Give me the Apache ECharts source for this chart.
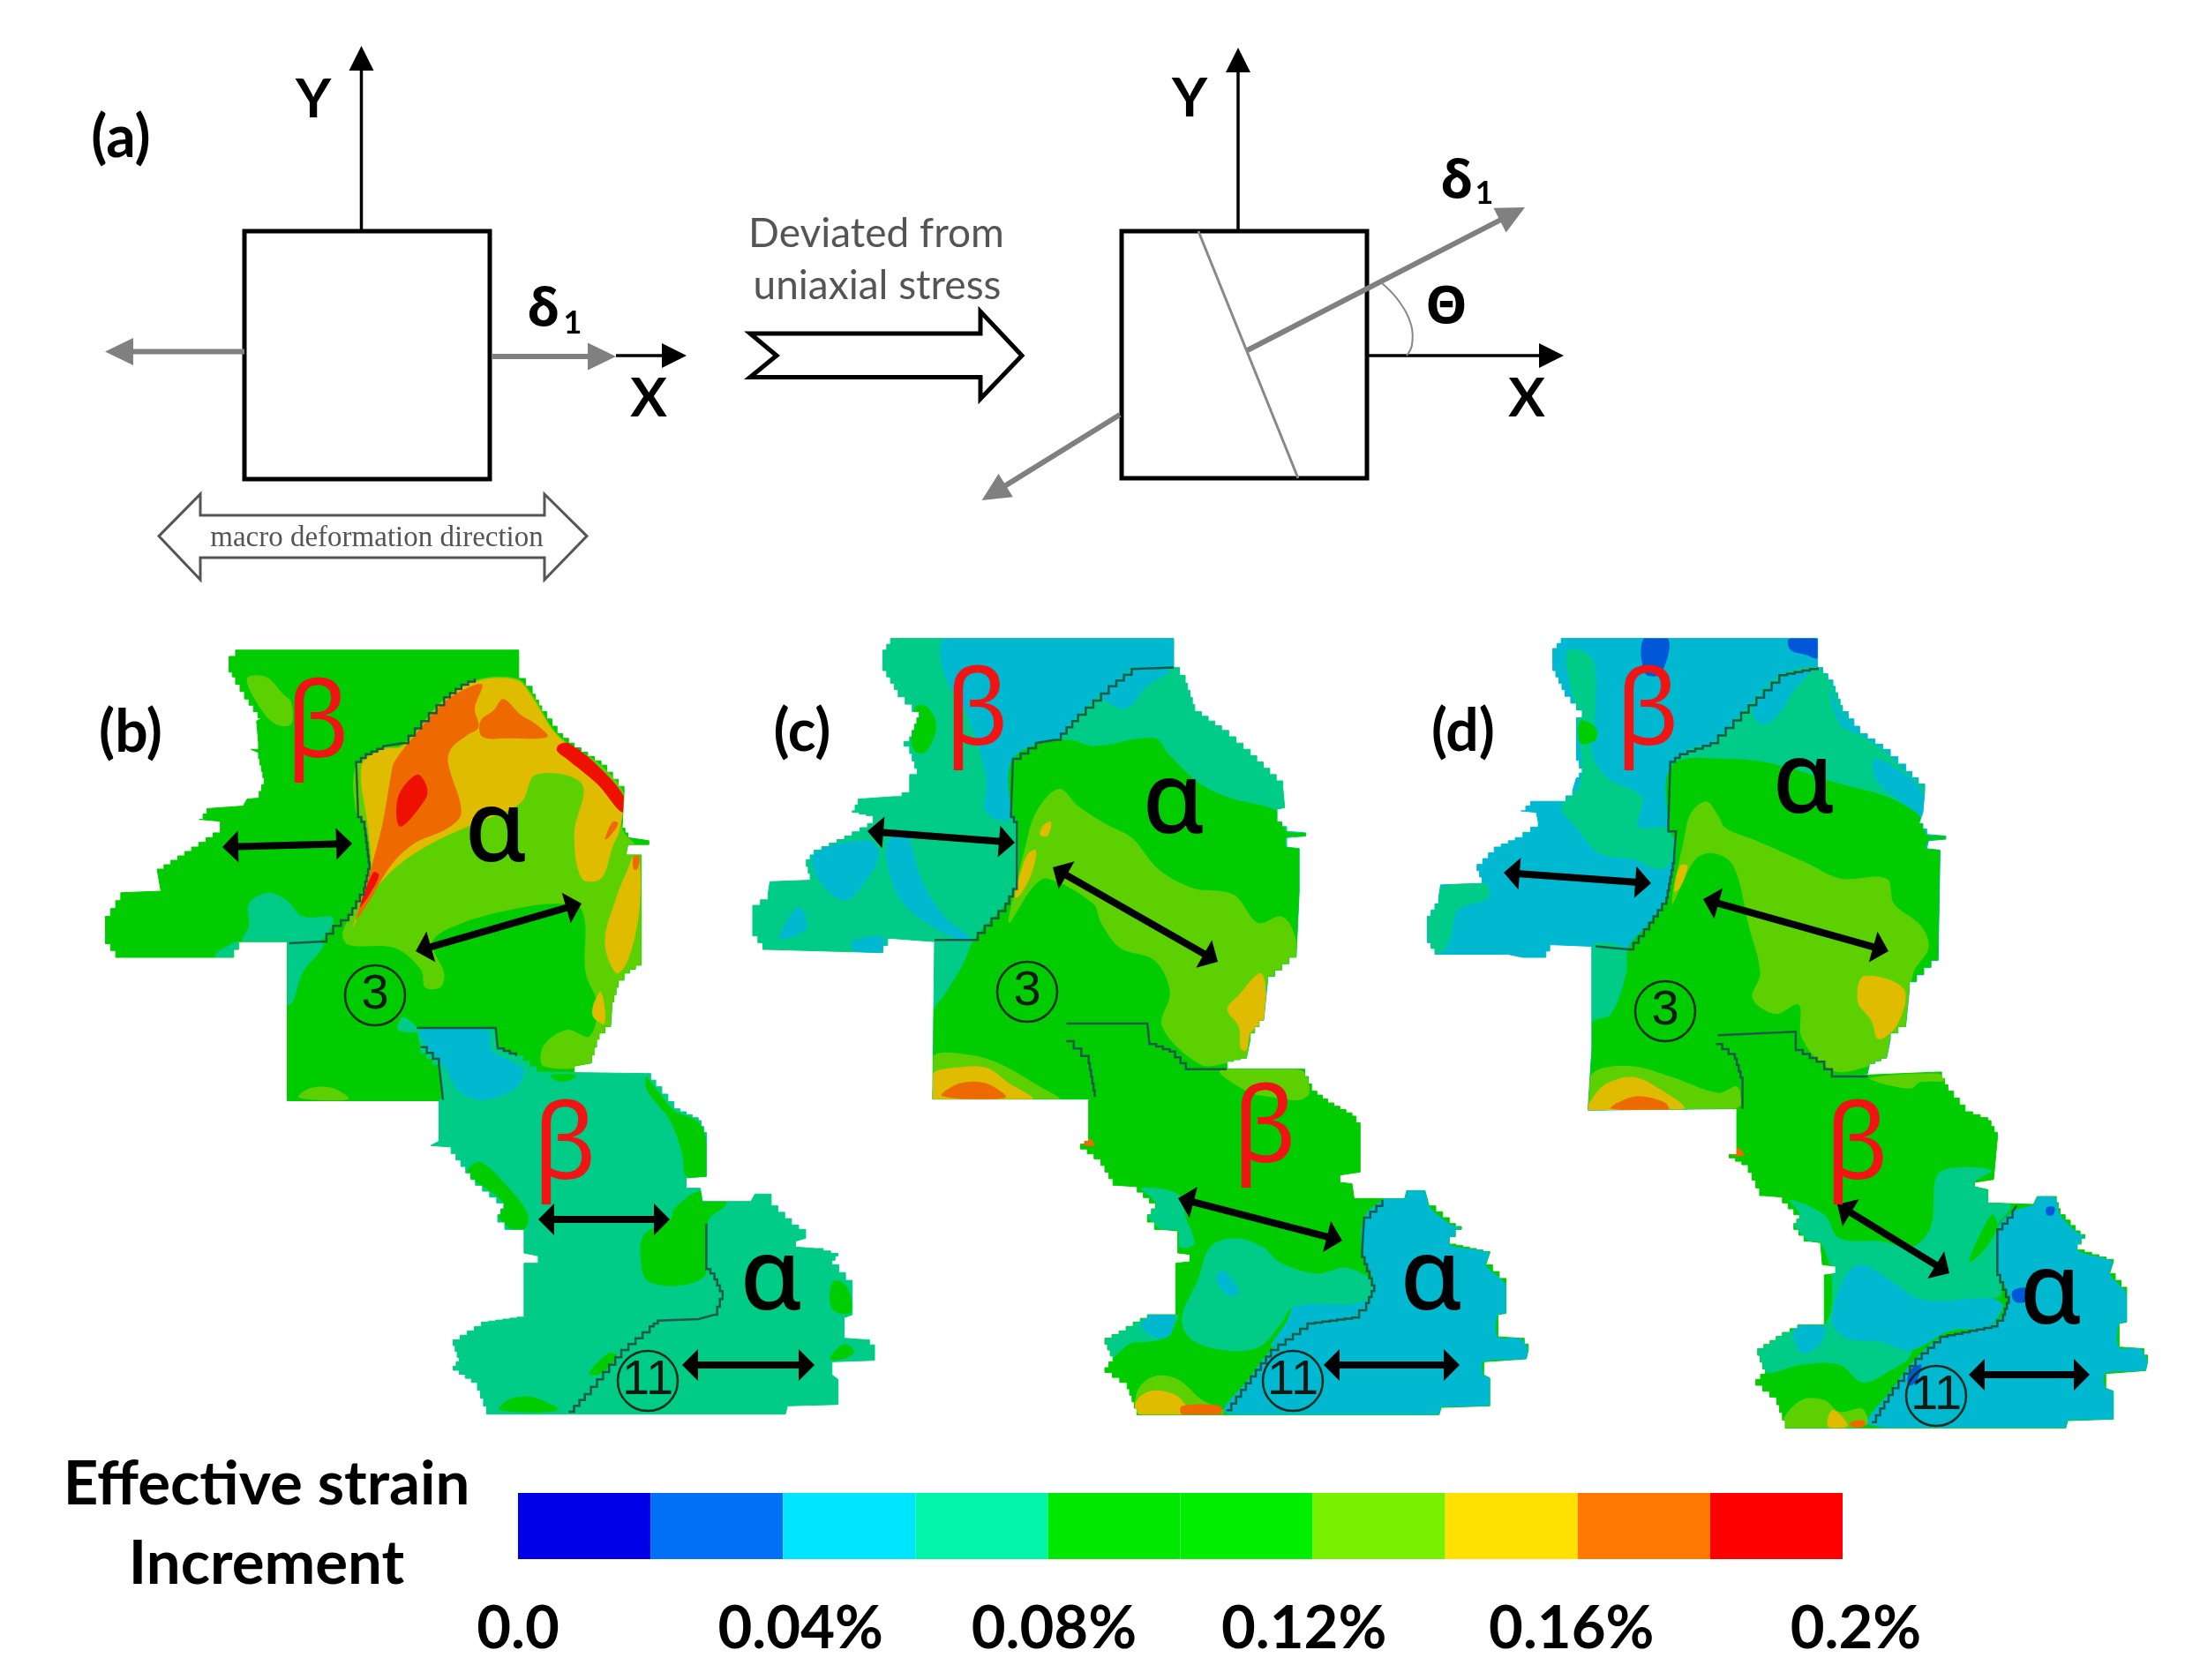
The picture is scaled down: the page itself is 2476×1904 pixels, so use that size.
<!DOCTYPE html>
<html>
<head>
<meta charset="utf-8">
<title>Effective strain increment</title>
<script src="https://cdn.jsdelivr.net/npm/echarts@6/dist/echarts.min.js"></script>
<style>
  html, body { margin: 0; padding: 0; background: #fff; }
  #chart { width: 2476px; height: 1904px; filter: blur(0.7px); }
</style>
</head>
<body>
<div id="chart"></div>
<script>
// colour bar
const legendStops = [0, 0.02, 0.04, 0.06, 0.08, 0.10, 0.12, 0.14, 0.16, 0.18, 0.20];
const legendColors = ['#0000e6', '#0070f5', '#00e5ff', '#00f5a8', '#00e800', '#00ee00', '#78f000', '#ffe000', '#ff7800', '#ff0000'];
const tickValues = [0, 0.04, 0.08, 0.12, 0.16, 0.2];
const tickLabels = ['0.0', '0.04%', '0.08%', '0.12%', '0.16%', '0.2%'];

// strain level of each patch (middle of its colour band)
const BLUE = 0.03, CYAN = 0.05, TEAL = 0.07, GREEN = 0.10, LIME = 0.13, YELLOW = 0.15, ORANGE = 0.17, RED = 0.19;

const panelBUpper = [
  [GREEN, [385,75, 1125,75, 1125,165, 1160,215, 1185,270, 1225,340, 1270,385, 1340,440, 1400,530, 1395,640, 1410,670, 1465,680, 1465,692, 1410,692, 1405,725, 1445,725, 1445,1075, 1415,1100, 1385,1145, 1368,1215, 1365,1270, 1335,1310, 1315,1385, 1270,1395, 1270,1415, 1170,1415, 920,1505, 520,1505, 520,1000, 405,1000, 380,1050, 85,1050, 45,985, 45,920, 85,845, 190,840, 180,770, 270,700, 345,640, 345,618, 290,612, 310,578, 405,570, 415,548, 440,545, 460,480, 445,400, 425,390, 445,370, 440,300, 455,290, 420,230, 385,160, 368,130, 368,95]],
  [LIME, [415,165, 465,160, 510,215, 530,240, 530,310, 490,310, 450,260]],
  [TEAL, [420,880, 470,845, 520,870, 560,920, 640,925, 600,1000, 405,1000, 420,950]],
  [TEAL, [330,1045, 385,1000, 400,1005, 380,1050]],
  [TEAL, [520,1005, 615,1005, 560,1100, 535,1190, 520,1200]],
  [TEAL, [820,1240, 850,1260, 860,1285, 810,1280]],
  [LIME, [550,1495, 580,1465, 640,1465, 680,1500]],
  [LIME, [700,440, 770,385, 820,375, 930,230, 1010,170, 1120,165, 1160,215, 1225,340, 1340,440, 1400,530, 1395,640, 1445,725, 1445,1075, 1385,1145, 1365,1270, 1315,1385, 1190,1395, 1190,1330, 1250,1280, 1310,1300, 1330,1200, 1300,1100, 1290,900, 1220,880, 1100,900, 980,940, 900,1000, 930,1100, 920,1145, 880,1145, 870,1090, 800,1020, 680,1010, 665,970, 720,830, 735,750, 722,620, 700,590]],
  [YELLOW, [715,440, 770,390, 820,380, 930,235, 1010,175, 1120,170, 1160,225, 1225,345, 1330,445, 1395,535, 1390,640, 1370,700, 1340,800, 1290,800, 1270,660, 1290,500, 1170,470, 1130,560, 1000,630, 880,700, 790,780, 710,900, 690,960, 730,850, 740,760, 730,630]],
  [YELLOW, [1425,730, 1440,740, 1440,900, 1410,1060, 1380,1100, 1350,1000, 1380,860, 1410,770]],
  [YELLOW, [1340,1160, 1350,1260, 1320,1240, 1320,1200]],
  [ORANGE, [1000,190, 1030,185, 1010,260, 1020,320, 990,345, 950,385, 940,430, 975,590, 940,640, 850,690, 790,760, 730,880, 700,930, 725,830, 745,740, 770,620, 790,480, 800,430, 870,320, 930,240]],
  [ORANGE, [1025,300, 1060,265, 1085,230, 1130,280, 1170,310, 1200,350, 1100,355, 1030,350]],
  [ORANGE, [1370,620, 1350,675, 1360,670, 1385,625]],
  [ORANGE, [1425,730, 1440,730, 1435,770, 1425,770]],
  [RED, [1230,375, 1255,370, 1330,440, 1400,540, 1395,590, 1330,500, 1250,420, 1225,395]],
  [RED, [860,470, 885,510, 880,550, 815,635, 810,540]],
  [RED, [745,780, 760,790, 730,860, 710,890]]
];
const panelBLower = [
  [TEAL, [375,45, 570,45, 575,115, 620,140, 670,195, 940,200, 965,245, 1010,320, 1070,360, 1090,420, 1090,550, 1040,555, 1040,590, 1075,590, 1080,635, 1200,635, 1210,610, 1250,610, 1250,650, 1300,715, 1335,745, 1335,760, 1310,770, 1310,790, 1360,795, 1415,820, 1400,850, 1450,930, 1450,1020, 1430,1030, 1430,1100, 1480,1105, 1505,1140, 1505,1175, 1400,1180, 1400,1225, 1415,1240, 1415,1325, 1290,1330, 1285,1358, 555,1358, 525,1250, 465,1195, 480,1165, 465,1105, 500,1075, 535,1045, 640,1025, 640,845, 675,845, 675,820, 640,810, 640,730, 610,730, 575,680, 590,640, 520,560, 460,450, 410,445, 430,430, 430,290, 440,285, 430,170, 385,110]],
  [CYAN, [385,55, 550,55, 560,120, 620,165, 640,190, 620,250, 540,290, 480,260, 440,170, 400,110]],
  [GREEN, [940,210, 965,250, 1010,325, 1070,365, 1090,430, 1090,550, 1040,550, 1030,470, 1000,360, 945,260]],
  [GREEN, [500,540, 530,500, 590,570, 650,680, 640,730, 610,730, 575,680, 590,640]],
  [GREEN, [1010,660, 1075,600, 1140,640, 1095,700, 1090,850, 1085,890, 1030,920, 950,910, 930,860, 935,750, 1000,700]],
  [GREEN, [580,1345, 600,1310, 660,1300, 725,1345]],
  [GREEN, [1400,910, 1425,910, 1445,950, 1445,1015, 1400,1000]],
  [GREEN, [1395,1170, 1430,1120, 1455,1145, 1430,1170]],
  [GREEN, [705,205, 770,205, 750,225, 720,225]],
  [GREEN, [800,1220, 850,1150, 870,1160, 830,1220]]
];
const boundaryBUpper = [[525,1005, 605,1000, 640,950, 680,915, 720,830, 735,750, 722,620, 705,590, 700,430, 725,405, 770,380, 820,370, 870,300, 930,225, 975,185, 1010,165]];
const boundaryBLower = [
  [375,45, 570,45, 575,115, 620,140],
  [385,110, 430,170, 440,290],
  [750,1350, 790,1290, 850,1190, 880,1140, 950,1060, 970,1040, 1070,1035, 1110,1020, 1130,940, 1110,880, 1090,850, 1090,710]
];

const panelCUpper = [
  [TEAL, [390,38, 1130,38, 1130,130, 1160,180, 1185,270, 1255,330, 1330,410, 1415,510, 1420,575, 1400,580, 1400,620, 1425,650, 1475,655, 1475,665, 1425,670, 1425,700, 1458,705, 1458,840, 1450,1050, 1375,1130, 1365,1250, 1330,1310, 1320,1370, 1270,1385, 1270,1410, 1160,1410, 920,1500, 500,1500, 505,1000, 395,990, 370,1035, 70,1025, 30,960, 30,885, 70,850, 75,810, 185,805, 170,740, 190,710, 270,665, 330,625, 345,600, 290,585, 305,548, 400,540, 440,515, 440,470, 460,450, 440,380, 425,365, 440,350, 465,270, 410,200, 370,120, 370,75]],
  [CYAN, [535,40, 1130,40, 1130,130, 1020,135, 960,190, 880,280, 820,360, 770,370, 705,430, 700,610, 640,590, 640,480, 590,280, 530,150]],
  [CYAN, [1020,140, 1120,140, 1060,190, 1020,250, 990,260, 940,215]],
  [CYAN, [190,720, 330,680, 360,720, 330,800, 270,870, 200,800]],
  [CYAN, [380,690, 430,660, 470,800, 530,920, 600,990, 560,990, 450,910, 400,830]],
  [CYAN, [100,990, 150,890, 170,960]],
  [CYAN, [290,1000, 370,985, 370,1030, 300,1035]],
  [GREEN, [460,250, 490,260, 510,320, 480,400, 450,390, 445,300]],
  [GREEN, [705,430, 770,375, 860,360, 920,380, 1080,355, 1120,410, 1200,500, 1280,545, 1400,585, 1425,650, 1475,655, 1475,665, 1425,670, 1425,700, 1458,705, 1450,1050, 1375,1130, 1365,1250, 1330,1310, 1320,1370, 1270,1385, 1270,1410, 1160,1410, 920,1500, 500,1500, 500,1230, 530,1170, 580,1070, 610,990, 690,880, 720,810, 720,620, 705,590]],
  [LIME, [830,515, 880,570, 950,625, 1020,670, 1090,770, 1180,830, 1285,850, 1350,940, 1410,920, 1440,960, 1450,1050, 1375,1130, 1365,1250, 1330,1310, 1320,1370, 1270,1385, 1200,1390, 1100,1270, 1120,1160, 1080,1060, 990,1020, 940,940, 920,880, 800,800, 760,830, 700,940, 720,810, 740,710, 770,590]],
  [YELLOW, [790,630, 810,620, 800,665, 780,660]],
  [YELLOW, [750,720, 770,710, 760,780, 730,850, 715,860, 735,760]],
  [YELLOW, [1355,1100, 1370,1140, 1365,1250, 1330,1290, 1320,1345, 1305,1340, 1300,1270, 1270,1215, 1300,1170]],
  [LIME, [500,1365, 600,1360, 680,1390, 780,1460, 830,1500, 500,1500]],
  [YELLOW, [500,1420, 560,1400, 640,1400, 700,1450, 760,1500, 500,1500]],
  [ORANGE, [525,1490, 570,1450, 640,1450, 690,1495]]
];
const panelCLower = [
  [GREEN, [345,30, 545,30, 550,100, 600,125, 640,185, 925,185, 950,260, 990,300, 1050,345, 1070,390, 1070,535, 1020,545, 1020,570, 1050,575, 1055,625, 1180,625, 1185,598, 1230,598, 1240,650, 1290,710, 1320,730, 1290,780, 1390,810, 1380,850, 1430,920, 1430,1015, 1410,1020, 1410,1095, 1465,1100, 1485,1140, 1480,1170, 1375,1180, 1375,1225, 1390,1235, 1390,1330, 1270,1335, 1265,1360, 525,1360, 495,1250, 440,1200, 460,1160, 440,1100, 475,1075, 510,1045, 545,1020, 615,1020, 615,845, 650,840, 650,815, 620,810, 620,735, 580,730, 545,680, 565,640, 520,585, 470,580, 430,490, 380,440, 400,420, 400,290, 415,280, 400,165, 345,90]],
  [LIME, [725,190, 925,190, 945,265, 920,290, 850,280, 790,260]],
  [ORANGE, [380,440, 400,420, 415,445]],
  [TEAL, [530,590, 620,610, 640,690, 660,780, 625,790, 620,735, 580,730, 545,680, 565,640]],
  [TEAL, [700,790, 760,760, 830,790, 870,840, 960,880, 1030,860, 1075,880, 1105,920, 1080,990, 990,1000, 900,1000, 880,1040, 820,1130, 730,1140, 650,1100, 630,1030, 670,900]],
  [CYAN, [730,870, 760,910, 770,950, 740,950, 715,900]],
  [TEAL, [440,1100, 510,1050, 540,1030, 620,1020, 610,1060, 600,1090, 560,1110, 500,1120, 440,1190]],
  [CYAN, [550,1020, 610,1025, 600,1090, 570,1100, 530,1060]],
  [CYAN, [850,1130, 890,1040, 910,990, 1050,985, 1085,975, 1050,1030, 940,1050]],
  [CYAN, [740,1355, 800,1230, 850,1140, 940,1050, 1050,1030, 1085,980, 1105,920, 1075,800, 1080,690, 1125,630, 1185,598, 1230,598, 1240,650, 1290,710, 1320,730, 1290,780, 1390,810, 1380,850, 1430,920, 1430,1015, 1410,1020, 1410,1095, 1465,1100, 1485,1140, 1480,1170, 1375,1180, 1375,1225, 1390,1235, 1390,1330, 1270,1335, 1265,1360]],
  [LIME, [520,1280, 560,1230, 620,1240, 680,1310, 730,1340, 730,1358, 525,1358]],
  [YELLOW, [515,1320, 550,1280, 610,1290, 640,1330, 640,1358, 525,1358]],
  [ORANGE, [630,1330, 725,1330, 725,1358, 630,1358]]
];
const boundaryCUpper = [[505,995, 600,995, 690,880, 720,810, 720,620, 705,590, 710,420, 770,370, 820,360, 880,280, 960,190, 1020,135, 1130,130]];
const boundaryCLower = [
  [345,30, 545,30, 550,100, 600,125, 640,185, 740,185],
  [345,90, 400,165, 415,280],
  [740,1345, 800,1230, 850,1140, 940,1050, 1050,1030, 1085,980, 1105,920, 1075,800, 1080,690, 1125,630]
];

const panelDUpper = [
  [CYAN, [390,38, 1060,38, 1060,130, 1100,190, 1125,270, 1170,340, 1230,390, 1290,460, 1340,520, 1335,590, 1325,625, 1345,660, 1395,665, 1395,675, 1350,680, 1345,705, 1380,710, 1375,1060, 1300,1150, 1290,1270, 1250,1310, 1240,1370, 1195,1395, 1190,1420, 1090,1430, 860,1530, 460,1535, 470,1340, 470,1015, 370,1010, 350,1050, 290,1050, 250,1040, 70,1040, 40,985, 40,920, 70,860, 75,820, 190,815, 170,755, 215,700, 270,670, 330,620, 325,590, 285,585, 310,555, 385,555, 420,520, 430,480, 445,450, 430,400, 430,290, 445,265, 400,200, 368,120, 368,70]],
  [TEAL, [405,80, 470,100, 480,250, 470,400, 510,480, 600,540, 590,630, 610,640, 670,640, 685,700, 670,760, 640,770, 580,740, 490,720, 430,640, 390,570, 440,500, 430,290]],
  [TEAL, [40,920, 75,830, 190,815, 200,860, 120,900, 100,990, 70,1040, 40,985]],
  [GREEN, [440,300, 480,320, 480,360, 440,370]],
  [BLUE, [605,40, 670,40, 650,150, 610,150]],
  [BLUE, [985,40, 1060,40, 1060,100, 1030,90, 990,75]],
  [TEAL, [680,430, 730,385, 780,370, 880,250, 960,155, 1060,130, 1100,190, 1125,270, 1170,340, 1230,390, 1290,460, 1340,520, 1335,590, 1240,540, 1120,500, 960,450, 850,420, 680,470]],
  [CYAN, [960,165, 1040,140, 1000,200, 950,290, 910,310, 890,250]],
  [CYAN, [1090,200, 1130,290, 1170,340, 1120,310]],
  [CYAN, [1210,420, 1290,470, 1335,530, 1330,590, 1260,540, 1210,480]],
  [TEAL, [470,1015, 565,1025, 560,1100, 520,1230, 470,1260]],
  [GREEN, [680,440, 830,420, 960,440, 1120,500, 1240,540, 1325,600, 1345,660, 1395,665, 1395,675, 1350,680, 1345,705, 1380,710, 1375,1060, 1300,1150, 1290,1270, 1250,1310, 1240,1370, 1195,1395, 1190,1420, 1090,1430, 860,1530, 460,1535, 470,1260, 520,1230, 560,1100, 565,1020, 620,940, 665,860, 690,700, 670,630]],
  [LIME, [770,555, 800,600, 820,640, 900,680, 1030,750, 1120,800, 1240,800, 1260,880, 1330,950, 1350,1020, 1310,1100, 1290,1270, 1250,1310, 1240,1370, 1195,1395, 1100,1410, 1020,1310, 1010,1200, 950,1230, 890,1180, 910,1100, 880,950, 840,760, 790,720, 740,740, 680,880, 710,680, 730,590]],
  [YELLOW, [700,760, 720,760, 700,830, 685,840]],
  [YELLOW, [1180,1110, 1285,1150, 1270,1260, 1220,1310, 1200,1250, 1165,1190]],
  [LIME, [470,1420, 570,1395, 680,1430, 800,1480, 850,1460, 855,1530, 460,1535]],
  [YELLOW, [470,1500, 510,1450, 580,1430, 650,1470, 710,1530, 460,1535]],
  [ORANGE, [520,1530, 540,1510, 590,1490, 660,1510, 670,1535]]
];
const panelDLower = [
  [GREEN, [335,70, 545,58, 545,120, 600,160, 640,210, 920,195, 945,260, 990,330, 1050,360, 1075,420, 1065,560, 1015,570, 1015,585, 1050,595, 1050,640, 1170,645, 1180,618, 1225,618, 1240,680, 1280,735, 1305,760, 1285,800, 1380,840, 1370,880, 1415,950, 1415,1045, 1395,1050, 1395,1130, 1450,1135, 1470,1180, 1465,1210, 1360,1220, 1360,1270, 1380,1280, 1380,1375, 1260,1380, 1255,1405, 525,1405, 495,1300, 440,1240, 465,1205, 445,1135, 510,1080, 550,1055, 620,1055, 620,885, 650,880, 650,855, 615,850, 610,775, 580,770, 540,710, 555,680, 510,620, 460,615, 420,510, 370,475, 390,450, 390,320, 405,305, 390,145, 335,100]],
  [LIME, [740,215, 920,200, 935,225, 870,230, 850,250, 790,240]],
  [ORANGE, [370,475, 390,450, 410,478]],
  [TEAL, [530,630, 620,680, 660,760, 770,770, 850,790, 900,720, 915,550, 960,520, 1060,530, 1015,570, 1050,600, 1110,650, 1075,720, 1085,950, 1060,965, 900,980, 830,1000, 850,1150, 780,1220, 720,1250, 660,1190, 560,1190, 465,1215, 445,1135, 510,1080, 620,1055, 640,900, 610,775, 580,770, 540,710, 555,680]],
  [GREEN, [1000,840, 1060,680, 1075,720, 1040,800]],
  [CYAN, [680,880, 720,850, 790,900, 880,970, 1060,965, 1090,990, 1050,1060, 950,1075, 850,1140, 760,1110, 680,1100, 640,1040]],
  [CYAN, [540,1065, 620,1060, 610,1120, 560,1150]],
  [CYAN, [740,1395, 800,1270, 860,1170, 925,1100, 1050,1060, 1090,1020, 1105,960, 1075,860, 1075,730, 1115,670, 1170,645, 1180,618, 1225,618, 1240,680, 1280,735, 1305,760, 1285,800, 1380,840, 1370,880, 1415,950, 1415,1045, 1395,1050, 1395,1130, 1450,1135, 1470,1180, 1465,1210, 1360,1220, 1360,1270, 1380,1280, 1380,1375, 1260,1380, 1255,1405]],
  [BLUE, [1115,940, 1150,930, 1150,975, 1120,975]],
  [BLUE, [1205,655, 1225,655, 1222,680, 1205,680]],
  [BLUE, [845,1210, 875,1190, 860,1250, 840,1260]],
  [LIME, [510,1380, 560,1310, 620,1310, 660,1350, 720,1340, 730,1395, 525,1405]],
  [YELLOW, [630,1400, 640,1345, 670,1370, 680,1400]],
  [ORANGE, [690,1385, 725,1380, 725,1400, 690,1400]]
];
const boundaryDUpper = [[480,1015, 565,1025, 620,940, 665,860, 685,730, 690,650, 670,630, 675,430, 700,405, 780,370, 880,250, 960,155, 1060,130]];
const boundaryDLower = [
  [340,70, 545,58, 545,120, 600,160, 640,210, 735,210],
  [335,100, 385,150, 405,235, 405,320],
  [745,1385, 800,1270, 860,1170, 925,1095, 1060,1060, 1090,1020, 1105,960, 1075,860, 1075,730, 1115,670, 1125,650]
];

// loading direction arrows in the maps: x1, y1, x2, y2
const strainArrows = [
  [252,960, 399,956], [471,1078, 659,1024], [610,1382, 759,1382], [773,1547, 923,1547],
  [983,942, 1150,955], [1193,983, 1380,1090], [1335,1358, 1521,1406], [1500,1547, 1654,1547],
  [1704,989, 1871,1001], [1930,1019, 2140,1078], [2082,1365, 2209,1443], [2231,1558, 2368,1558]
];
// sketch (a): x1, y1, x2, y2 from tail to tip
const axisArrows = [[409.5,262, 409.5,52], [698,403, 778,403], [1403,262, 1403,54], [1551,403, 1772,403]];
const stressArrows = [[277,398.6, 119,398.6], [557,404, 698,404], [1413.5,397, 1728,235], [1269,470, 1112.5,567]];
const sketchBoxes = [[277,262, 555,543], [1271,262, 1549,542]];
const chevron = [850,378, 1111,378, 1111,353, 1158,403, 1111,452, 1111,427.5, 850,427.5, 880,403];
const macroArrow = [180,607.6, 227,560, 227,584, 617,584, 617,560, 665,607.6, 617,657, 617,632, 227,632, 227,657];
const grainLine = [1358,262, 1471,542];
const thetaArc = [1565,320, 1585,341, 1599,368, 1600,391, 1594,403];

const sketchTexts = [
  ['(a)', 137, 157, 'label'], ['Y', 355, 113, 'axis'], ['X', 735, 452, 'axis'],
  ['δ', 616, 352, 'delta'], ['1', 649, 366, 'sub'],
  ['macro deformation direction', 427, 610, 'serif'],
  ['Deviated from', 993, 265, 'note'], ['uniaxial stress', 994, 324, 'note'],
  ['Y', 1348, 112, 'axis'], ['X', 1730, 452, 'axis'],
  ['δ', 1651, 207, 'delta'], ['1', 1682, 219, 'sub'], ['Θ', 1639, 349, 'delta'],
  ['(b)', 148, 831, 'label'], ['(c)', 909, 830, 'label'], ['(d)', 1658, 830, 'label'],
  ['Effective strain', 302, 1683, 'title'], ['Increment', 302, 1773, 'title']
];
const phaseTexts = [
  ['β', 360, 824, 'beta'], ['α', 562, 944, 'alpha'], ['β', 640, 1302, 'beta'], ['α', 874, 1452, 'alpha'],
  ['β', 1107, 810, 'beta'], ['α', 1330, 912, 'alpha'], ['β', 1433, 1283, 'beta'], ['α', 1622, 1452, 'alpha'],
  ['β', 1867, 810, 'beta'], ['α', 2044, 889, 'alpha'], ['β', 2104, 1302, 'beta'], ['α', 2324, 1468, 'alpha']
];
// grain numbers, drawn inside a ring
const grainMarks = [
  ['3', 425, 1128], ['11', 734, 1565], ['3', 1164, 1124], ['11', 1465, 1565], ['3', 1887, 1146], ['11', 2194, 1582]
];

const fonts = {
  label: 'bold 66px Lato', axis: 'bold 62px Lato', delta: 'bold 60px "Noto Sans"', sub: 'bold 36px Lato',
  serif: '400 33px "Liberation Serif"', note: '400 46px Lato', title: 'bold 69px Lato',
  beta: '400 118px "Noto Sans"', alpha: '500 112px "Noto Sans"', mark: '400 56px "Liberation Sans"'
};
const textColors = { beta: '#f01414', serif: '#555', note: '#555' };

const strainPieces = [
  { min: 0.02, max: 0.04, color: '#0058d8' },
  { min: 0.04, max: 0.06, color: '#00b8d0' },
  { min: 0.06, max: 0.08, color: '#00cc88' },
  { min: 0.08, max: 0.12, color: '#00cc00' },
  { min: 0.12, max: 0.14, color: '#5cd000' },
  { min: 0.14, max: 0.16, color: '#e0bc00' },
  { min: 0.16, max: 0.18, color: '#ee6a00' },
  { min: 0.18, max: 0.20, color: '#ee1000' }
];

// the crops each list was read from: left, top, horizontal and vertical zoom
const crops = {
  bUp: [100, 710, 2.306, 2.8], bLow: [300, 1150, 2.178, 3],
  cUp: [840, 710, 2.306, 2.8], cLow: [1050, 1150, 2.178, 3],
  dUp: [1600, 710, 2.306, 2.8], dLow: [1800, 1150, 2.32, 3]
};
function fromCrop(c, flat) {
  const pts = [];
  for (let i = 0; i < flat.length; i += 2) {
    pts.push([c[0] + flat[i] / c[2], c[1] + flat[i + 1] / c[3]]);
  }
  return pts;
}
function pairs(flat) {
  return fromCrop([0, 0, 1, 1], flat);
}

// the maps are pixelated: diagonal edges of outlines run as small steps
function stepped(pts, closed, size) {
  const out = [pts[0]];
  const end = closed ? pts.length : pts.length - 1;
  for (let i = 0; i < end; i++) {
    const a = pts[i], b = pts[(i + 1) % pts.length];
    const dx = b[0] - a[0], dy = b[1] - a[1];
    if (Math.min(Math.abs(dx), Math.abs(dy)) > 5) {
      const n = Math.ceil(Math.max(Math.abs(dx), Math.abs(dy)) / size);
      for (let k = 1; k <= n; k++) {
        out.push([a[0] + dx * k / n, a[1] + dy * (k - 1) / n]);
        out.push([a[0] + dx * k / n, a[1] + dy * k / n]);
      }
    } else {
      out.push(b);
    }
  }
  return out;
}

const patches = [];
[[panelBUpper, crops.bUp], [panelCUpper, crops.cUp], [panelDUpper, crops.dUp],
 [panelBLower, crops.bLow], [panelCLower, crops.cLow], [panelDLower, crops.dLow]].forEach(([list, c]) => {
  const outline = stepped(fromCrop(c, list[0][1]), true, 9);
  list.forEach((p, i) => patches.push({ value: p[0], pts: i === 0 ? outline : fromCrop(c, p[1]), outline: outline, base: i === 0 }));
});
const boundaries = [];
[[boundaryBUpper, crops.bUp], [boundaryBLower, crops.bLow], [boundaryCUpper, crops.cUp],
 [boundaryCLower, crops.cLow], [boundaryDUpper, crops.dUp], [boundaryDLower, crops.dLow]].forEach(([list, c]) => {
  list.forEach(l => boundaries.push(stepped(fromCrop(c, l), false, 9)));
});

// arrow outline from a to b in screen pixels
function arrowShape(a, b, shaft, headLen, headWid, both) {
  const len = Math.hypot(b[0] - a[0], b[1] - a[1]);
  const ux = (b[0] - a[0]) / len, uy = (b[1] - a[1]) / len;
  const at = (along, side) => [a[0] + ux * along - uy * side, a[1] + uy * along + ux * side];
  const s = shaft / 2, h = headWid / 2;
  const tail = both
    ? [at(headLen, -s), at(headLen, -h), at(0, 0), at(headLen, h), at(headLen, s)]
    : [at(0, -s), at(0, s)];
  return tail.concat([at(len - headLen, s), at(len - headLen, h), at(len, 0), at(len - headLen, -h), at(len - headLen, -s)]);
}

function coords(api, pts) {
  return pts.map(p => api.coord(p));
}

const chart = echarts.init(document.getElementById('chart'));
const hiddenAxis = { type: 'value', show: false, min: 0 };
const allTexts = sketchTexts.concat(phaseTexts);

chart.setOption({
  animation: false,
  backgroundColor: '#ffffff',
  grid: [
    { left: 0, top: 0, width: 2476, height: 1904 },
    { left: 587, top: 1692, width: 1501, height: 75 }
  ],
  xAxis: [
    { ...hiddenAxis, gridIndex: 0, max: 2476 },
    {
      type: 'value', gridIndex: 1, min: 0, max: 0.2, interval: 0.04,
      axisLine: { show: false }, axisTick: { show: false }, splitLine: { show: false },
      axisLabel: {
        margin: 46, fontFamily: 'Lato', fontWeight: 'bold', fontSize: 67, color: '#000',
        showMinLabel: true, showMaxLabel: true, hideOverlap: false,
        formatter: (v) => {
          const i = tickValues.findIndex(t => Math.abs(t - v) < 1e-6);
          return '{t' + i + '|' + tickLabels[i] + '}';
        },
        rich: {
          t0: {}, t1: { padding: [0, 0, 0, 40] }, t2: { padding: [0, 0, 0, 14] },
          t3: { padding: [0, 20, 0, 0] }, t4: { padding: [0, 14, 0, 0] }, t5: { padding: [0, 0, 0, 30] }
        }
      }
    }
  ],
  yAxis: [
    { ...hiddenAxis, gridIndex: 0, max: 1904, inverse: true },
    { type: 'value', gridIndex: 1, min: 0, max: 1, show: false }
  ],
  visualMap: [{
    show: false, type: 'piecewise', seriesIndex: 0, dimension: 0, pieces: strainPieces
  }],
  series: [
    {
      name: 'strain map', type: 'custom', coordinateSystem: 'cartesian2d', xAxisIndex: 0, yAxisIndex: 0, clip: false,
      data: patches.map((p, i) => [p.value, i]),
      renderItem: (params, api) => {
        const patch = patches[api.value(1)];
        const color = api.visual('color');
        const el = {
          type: 'polygon',
          shape: { points: coords(api, patch.pts), smooth: patch.base ? 0 : 0.35 },
          style: { fill: color, stroke: patch.base ? color : null, lineWidth: 1 }
        };
        if (!patch.base) {
          el.clipPath = { type: 'polygon', shape: { points: coords(api, patch.outline) } };
        }
        return el;
      }
    },
    {
      name: 'grain boundaries', type: 'custom', coordinateSystem: 'cartesian2d', xAxisIndex: 0, yAxisIndex: 0, clip: false,
      data: boundaries.map((b, i) => [i, 0]),
      renderItem: (params, api) => ({
        type: 'polyline',
        shape: { points: coords(api, boundaries[api.value(0)]) },
        style: { fill: null, stroke: '#1d5a48', lineWidth: 2.5 }
      })
    },
    {
      name: 'load arrows', type: 'custom', coordinateSystem: 'cartesian2d', xAxisIndex: 0, yAxisIndex: 0, clip: false,
      data: strainArrows,
      renderItem: (params, api) => ({
        type: 'polygon',
        shape: { points: arrowShape(api.coord([api.value(0), api.value(1)]), api.coord([api.value(2), api.value(3)]), 8, 18, 36, true) },
        style: { fill: '#000' }
      })
    },
    {
      name: 'sketch boxes', type: 'custom', coordinateSystem: 'cartesian2d', xAxisIndex: 0, yAxisIndex: 0, clip: false,
      data: sketchBoxes,
      renderItem: (params, api) => {
        const a = api.coord([api.value(0), api.value(1)]), b = api.coord([api.value(2), api.value(3)]);
        return {
          type: 'rect',
          shape: { x: a[0], y: a[1], width: b[0] - a[0], height: b[1] - a[1] },
          style: { fill: 'transparent', stroke: '#000', lineWidth: 5 }
        };
      }
    },
    {
      name: 'axis arrows', type: 'custom', coordinateSystem: 'cartesian2d', xAxisIndex: 0, yAxisIndex: 0, clip: false,
      data: axisArrows,
      renderItem: (params, api) => ({
        type: 'polygon',
        shape: { points: arrowShape(api.coord([api.value(0), api.value(1)]), api.coord([api.value(2), api.value(3)]), 3.5, 28, 28, false) },
        style: { fill: '#000' }
      })
    },
    {
      name: 'stress arrows', type: 'custom', coordinateSystem: 'cartesian2d', xAxisIndex: 0, yAxisIndex: 0, clip: false,
      data: stressArrows,
      renderItem: (params, api) => ({
        type: 'polygon',
        shape: { points: arrowShape(api.coord([api.value(0), api.value(1)]), api.coord([api.value(2), api.value(3)]), 6, 32, 31, false) },
        style: { fill: '#808080' }
      })
    },
    {
      name: 'sketch outlines', type: 'custom', coordinateSystem: 'cartesian2d', xAxisIndex: 0, yAxisIndex: 0, clip: false,
      data: [[0], [1], [2], [3]],
      renderItem: (params, api) => {
        const i = api.value(0);
        const shapes = [
          { pts: chevron, closed: true, stroke: '#000', width: 5 },
          { pts: macroArrow, closed: true, stroke: '#555', width: 3 },
          { pts: grainLine, closed: false, stroke: '#888', width: 3 },
          { pts: thetaArc, closed: false, stroke: '#888', width: 2 }
        ];
        const s = shapes[i];
        return {
          type: s.closed ? 'polygon' : 'polyline',
          shape: { points: coords(api, pairs(s.pts)), smooth: i === 3 ? 0.4 : 0 },
          style: { fill: s.closed ? '#fff' : null, stroke: s.stroke, lineWidth: s.width }
        };
      }
    },
    {
      name: 'grain marks', type: 'custom', coordinateSystem: 'cartesian2d', xAxisIndex: 0, yAxisIndex: 0, clip: false,
      data: grainMarks.map((m, i) => [m[1], m[2], i]),
      renderItem: (params, api) => {
        const p = api.coord([api.value(0), api.value(1)]);
        return {
          type: 'group',
          children: [
            { type: 'circle', shape: { cx: p[0], cy: p[1], r: 34 }, style: { fill: 'transparent', stroke: '#0b2a1c', lineWidth: 2.5 } },
            { type: 'text', style: { x: p[0], y: p[1], text: grainMarks[api.value(2)][0], font: fonts.mark, fill: '#0b1a12', align: 'center', verticalAlign: 'middle' } }
          ]
        };
      }
    },
    {
      name: 'texts', type: 'custom', coordinateSystem: 'cartesian2d', xAxisIndex: 0, yAxisIndex: 0, clip: false,
      data: allTexts.map((t, i) => [t[1], t[2], i]),
      renderItem: (params, api) => {
        const p = api.coord([api.value(0), api.value(1)]);
        const t = allTexts[api.value(2)];
        return {
          type: 'text',
          style: { x: p[0], y: p[1], text: t[0], font: fonts[t[3]], fill: textColors[t[3]] || '#000', align: 'center', verticalAlign: 'middle' }
        };
      }
    },
    {
      name: 'colour bar', type: 'custom', coordinateSystem: 'cartesian2d', xAxisIndex: 1, yAxisIndex: 1,
      data: legendColors.map((c, i) => [legendStops[i], legendStops[i + 1], i]),
      renderItem: (params, api) => {
        const a = api.coord([api.value(0), 1]), b = api.coord([api.value(1), 0]);
        return {
          type: 'rect',
          shape: { x: a[0], y: a[1], width: b[0] - a[0], height: b[1] - a[1] },
          style: { fill: legendColors[api.value(2)] }
        };
      }
    }
  ]
});
</script>
</body>
</html>
